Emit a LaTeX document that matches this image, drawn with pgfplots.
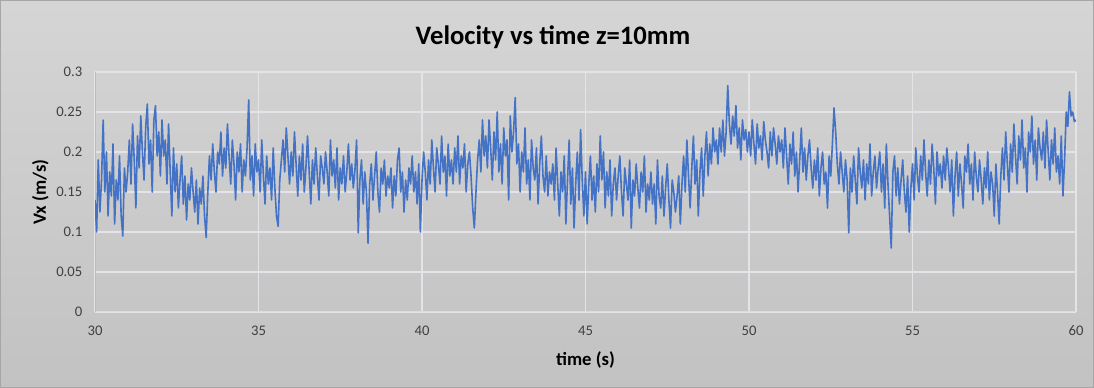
\documentclass[border=0pt]{standalone}
\usepackage{pgfplots}
\pgfplotsset{compat=1.18}
\usepackage{fontspec}
\setmainfont{Carlito}
\definecolor{bgtop}{HTML}{D5D5D5}
\definecolor{bgbot}{HTML}{C2C2C2}
\definecolor{series}{HTML}{4472C4}
\definecolor{gridc}{HTML}{E4E4E8}
\definecolor{ticktext}{HTML}{404040}
\definecolor{leftax}{HTML}{B0BDD2}
\definecolor{botax}{HTML}{D6DDE8}
\begin{document}
\begin{tikzpicture}
\shade[top color=bgtop, bottom color=bgbot] (0,0) rectangle (820.5pt,291pt);
\draw[color=black!35, line width=0.5pt] (0.25pt,0.25pt) rectangle (820.25pt,290.75pt);
\begin{axis}[
 at={(71.25pt,57pt)}, anchor=south west,
 scale only axis, width=735.75pt, height=180pt,
 xmin=30, xmax=60, ymin=0, ymax=0.3,
 xtick={30,35,40,45,50,55,60},
 ytick={0,0.05,0.1,0.15,0.2,0.25,0.3},
 xticklabels={30,35,40,45,50,55,60},
 yticklabels={0,0.05,0.1,0.15,0.2,0.25,0.3},
 grid=major, grid style={gridc, line width=1pt},
 axis line style={draw=none},
 major tick length=0pt,
 tick label style={font=\fontsize{11}{12}\selectfont, text=ticktext},
 xticklabel style={yshift=-7pt},
 yticklabel style={xshift=-6pt},
 /pgf/number format/assume math mode=true,
 title={Velocity vs time z=10mm},
 title style={font=\bfseries\fontsize{20}{22}\selectfont, at={(axis description cs:0.4669,1.11)}, anchor=center},
 xlabel={time (s)}, ylabel={Vx (m/s)},
 label style={font=\bfseries\fontsize{14}{16}\selectfont},
 xlabel style={at={(axis description cs:0.5,-0.2)}, anchor=center},
 ylabel style={at={(axis description cs:-0.0557,0.5)}, anchor=center},
]
\draw[botax, line width=1pt] (axis cs:30,0) -- (axis cs:60,0);
\draw[leftax, line width=1pt] (axis cs:30,0) -- (axis cs:30,0.3);
\addplot[series, line width=1.2pt, no markers, line join=round] table[row sep=\\, header=false, x expr=30+\coordindex*0.05, y index=0] {
0.140\\0.100\\0.190\\0.125\\0.165\\0.240\\0.150\\0.200\\0.120\\0.175\\0.145\\0.210\\0.110\\0.165\\0.140\\0.195\\0.120\\0.095\\0.180\\0.150\\
0.175\\0.215\\0.160\\0.235\\0.190\\0.130\\0.220\\0.180\\0.245\\0.200\\0.165\\0.230\\0.260\\0.185\\0.215\\0.150\\0.240\\0.258\\0.195\\0.225\\
0.170\\0.240\\0.195\\0.215\\0.160\\0.235\\0.175\\0.120\\0.205\\0.150\\0.185\\0.130\\0.165\\0.195\\0.135\\0.170\\0.115\\0.160\\0.140\\0.180\\
0.150\\0.125\\0.165\\0.110\\0.155\\0.135\\0.170\\0.120\\0.093\\0.150\\0.195\\0.165\\0.210\\0.175\\0.150\\0.200\\0.185\\0.225\\0.170\\0.205\\
0.180\\0.235\\0.195\\0.160\\0.215\\0.185\\0.140\\0.200\\0.175\\0.210\\0.150\\0.190\\0.170\\0.205\\0.265\\0.165\\0.195\\0.145\\0.210\\0.175\\
0.190\\0.150\\0.215\\0.170\\0.135\\0.195\\0.160\\0.180\\0.140\\0.205\\0.155\\0.120\\0.107\\0.165\\0.190\\0.215\\0.175\\0.230\\0.195\\0.160\\
0.200\\0.170\\0.225\\0.185\\0.145\\0.195\\0.165\\0.210\\0.150\\0.180\\0.220\\0.175\\0.135\\0.190\\0.160\\0.205\\0.170\\0.140\\0.195\\0.180\\
0.160\\0.200\\0.175\\0.145\\0.215\\0.170\\0.190\\0.155\\0.205\\0.140\\0.180\\0.160\\0.195\\0.150\\0.175\\0.210\\0.165\\0.185\\0.155\\0.178\\
0.215\\0.099\\0.165\\0.190\\0.135\\0.175\\0.150\\0.086\\0.160\\0.185\\0.140\\0.170\\0.200\\0.150\\0.125\\0.180\\0.160\\0.190\\0.145\\0.170\\
0.155\\0.180\\0.130\\0.170\\0.145\\0.190\\0.205\\0.150\\0.175\\0.125\\0.165\\0.140\\0.180\\0.160\\0.195\\0.150\\0.175\\0.135\\0.185\\0.100\\
0.165\\0.200\\0.175\\0.140\\0.190\\0.160\\0.215\\0.180\\0.150\\0.205\\0.185\\0.160\\0.220\\0.175\\0.195\\0.145\\0.210\\0.170\\0.190\\0.160\\
0.205\\0.175\\0.220\\0.160\\0.195\\0.180\\0.210\\0.150\\0.185\\0.200\\0.170\\0.130\\0.105\\0.150\\0.190\\0.215\\0.175\\0.240\\0.195\\0.220\\
0.180\\0.240\\0.205\\0.165\\0.225\\0.190\\0.250\\0.175\\0.210\\0.160\\0.230\\0.195\\0.215\\0.140\\0.245\\0.200\\0.225\\0.268\\0.185\\0.210\\
0.150\\0.200\\0.175\\0.230\\0.160\\0.190\\0.140\\0.215\\0.180\\0.165\\0.205\\0.135\\0.185\\0.220\\0.170\\0.150\\0.195\\0.145\\0.175\\0.160\\
0.185\\0.140\\0.205\\0.160\\0.120\\0.175\\0.150\\0.195\\0.110\\0.165\\0.215\\0.135\\0.180\\0.105\\0.160\\0.200\\0.140\\0.228\\0.165\\0.120\\
0.175\\0.110\\0.160\\0.195\\0.140\\0.170\\0.125\\0.185\\0.150\\0.220\\0.165\\0.200\\0.130\\0.175\\0.145\\0.190\\0.120\\0.160\\0.180\\0.140\\
0.170\\0.195\\0.150\\0.120\\0.180\\0.160\\0.140\\0.190\\0.105\\0.165\\0.145\\0.185\\0.155\\0.130\\0.175\\0.150\\0.195\\0.125\\0.160\\0.140\\
0.175\\0.135\\0.160\\0.110\\0.190\\0.145\\0.130\\0.170\\0.120\\0.155\\0.185\\0.140\\0.105\\0.165\\0.150\\0.125\\0.145\\0.170\\0.110\\0.160\\
0.195\\0.150\\0.215\\0.170\\0.130\\0.180\\0.220\\0.160\\0.190\\0.120\\0.175\\0.205\\0.145\\0.195\\0.225\\0.170\\0.210\\0.185\\0.230\\0.200\\
0.215\\0.185\\0.230\\0.200\\0.240\\0.195\\0.225\\0.283\\0.235\\0.210\\0.245\\0.220\\0.258\\0.205\\0.230\\0.190\\0.240\\0.215\\0.228\\0.200\\
0.225\\0.195\\0.240\\0.210\\0.185\\0.235\\0.205\\0.220\\0.190\\0.238\\0.215\\0.200\\0.180\\0.225\\0.195\\0.230\\0.210\\0.185\\0.220\\0.200\\
0.215\\0.180\\0.230\\0.195\\0.160\\0.210\\0.185\\0.225\\0.170\\0.200\\0.150\\0.190\\0.230\\0.175\\0.205\\0.165\\0.195\\0.215\\0.180\\0.155\\
0.190\\0.165\\0.205\\0.145\\0.180\\0.200\\0.160\\0.175\\0.130\\0.195\\0.170\\0.210\\0.255\\0.225\\0.185\\0.160\\0.200\\0.175\\0.150\\0.190\\
0.165\\0.099\\0.180\\0.150\\0.195\\0.165\\0.135\\0.205\\0.175\\0.155\\0.190\\0.140\\0.185\\0.160\\0.210\\0.145\\0.175\\0.195\\0.155\\0.180\\
0.200\\0.150\\0.185\\0.130\\0.210\\0.160\\0.120\\0.080\\0.175\\0.195\\0.145\\0.180\\0.135\\0.165\\0.190\\0.150\\0.125\\0.170\\0.100\\0.155\\
0.185\\0.140\\0.205\\0.170\\0.150\\0.195\\0.165\\0.215\\0.175\\0.145\\0.190\\0.160\\0.210\\0.180\\0.135\\0.200\\0.170\\0.185\\0.155\\0.195\\
0.165\\0.205\\0.180\\0.150\\0.190\\0.120\\0.170\\0.200\\0.145\\0.185\\0.160\\0.130\\0.195\\0.175\\0.210\\0.160\\0.185\\0.140\\0.200\\0.170\\
0.150\\0.190\\0.165\\0.135\\0.180\\0.155\\0.200\\0.140\\0.175\\0.160\\0.120\\0.185\\0.150\\0.110\\0.170\\0.205\\0.165\\0.225\\0.185\\0.150\\
0.210\\0.175\\0.235\\0.195\\0.160\\0.220\\0.190\\0.240\\0.180\\0.205\\0.150\\0.225\\0.200\\0.245\\0.185\\0.215\\0.165\\0.230\\0.205\\0.190\\
0.225\\0.180\\0.240\\0.200\\0.165\\0.215\\0.185\\0.230\\0.175\\0.195\\0.160\\0.220\\0.145\\0.190\\0.250\\0.232\\0.275\\0.245\\0.250\\0.238\\
0.240\\
};
\end{axis}
\end{tikzpicture}
\end{document}
